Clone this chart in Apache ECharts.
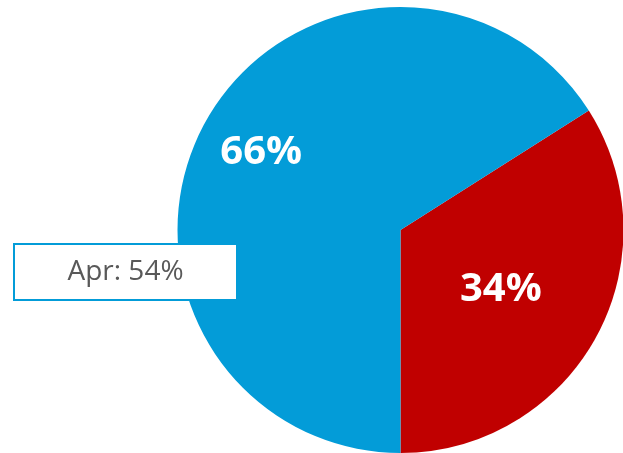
<!DOCTYPE html>
<html>
<head>
<meta charset="utf-8">
<script src="https://cdn.jsdelivr.net/npm/echarts@6/dist/echarts.min.js"></script>
<style>html,body{margin:0;padding:0;background:#fff;}#c{width:623px;height:453px;}</style>
</head>
<body>
<div id="c"></div>
<script>
const categories = ['Red', 'Blue'];
const values = [34, 66];
const colors = ['#C00000', '#039CD8'];
const calloutText = 'Apr: 54%';

const chart = echarts.init(document.getElementById('c'), null, {renderer: 'canvas'});
chart.setOption({
  animation: false,
  backgroundColor: '#ffffff',
  graphic: [{
    type: 'group',
    left: 13, top: 243,
    z: 100,
    children: [
      {type: 'rect', z: 100, shape: {x: 0, y: 0, width: 223, height: 56},
       style: {fill: '#ffffff', stroke: '#039CD8', lineWidth: 2}},
      {type: 'text', z: 101, x: 111.5, y: 28,
       style: {text: calloutText, fill: '#595959', font: '28px "Open Sans"', align: 'center', verticalAlign: 'middle'}}
    ]
  }],
  series: [{
    type: 'pie',
    center: [400.5, 230],
    radius: [0, 223],
    startAngle: 32.4,
    clockwise: true,
    silent: true,
    z: 1,
    label: {
      show: true,
      position: 'inside',
      formatter: p => p.value + '%',
      color: '#ffffff',
      fontFamily: 'Open Sans',
      fontWeight: 'bold',
      fontSize: 40
    },
    labelLine: {show: false},
    labelLayout: function (params) {
      if (params.dataIndex === 1) return {dx: -39, dy: -22};
      return {dx: 0, dy: 4};
    },
    itemStyle: {borderWidth: 0},
    data: categories.map((c, i) => ({name: c, value: values[i], itemStyle: {color: colors[i]}}))
  }]
});
</script>
</body>
</html>
